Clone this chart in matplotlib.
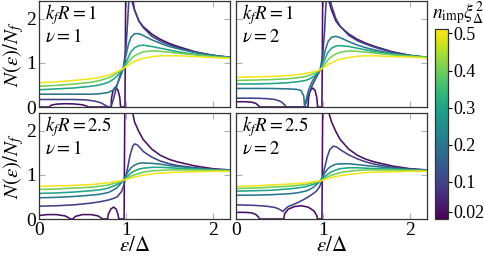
import matplotlib
matplotlib.use("Agg")
import matplotlib.pyplot as plt
import numpy as np

# impurity concentrations (colour scale)
n_imp = [0.02, 0.1, 0.2, 0.3, 0.4, 0.5]
cbar_ticks = [0.02, 0.1, 0.2, 0.3, 0.4, 0.5]
panel_titles = [(r"$k_f R = 1$", r"$\nu = 1$"), (r"$k_f R = 1$", r"$\nu = 2$"),
                (r"$k_f R = 2.5$", r"$\nu = 1$"), (r"$k_f R = 2.5$", r"$\nu = 2$")]

# common energy grid for the smooth curves
eps_grid = [0, 0.2, 0.4, 0.6, 0.7, 0.8, 0.85, 0.9, 0.95, 0.97, 1.0, 1.03, 1.06, 1.1,
            1.15, 1.2, 1.3, 1.4, 1.5, 1.6, 1.8, 2.0, 2.2]

# ---- kfR = 1, nu = 1 ----
a_x002 = [0, 0.12, 0.14, 0.2, 0.3, 0.4, 0.5, 0.55, 0.57, 0.83, 0.835, 0.85, 0.88, 0.91,
          0.93, 0.94, 0.99, 1.0, 1.02, 1.07, 1.1, 1.15, 1.2, 1.3, 1.4, 1.5, 1.6, 1.8, 2.0, 2.2]
a_y002 = [0, 0, 0.04, 0.065, 0.075, 0.07, 0.05, 0.02, 0, 0, 0.2, 0.35, 0.45, 0.38,
          0.22, 0, 0, 3.0, 3.5, 2.4, 2.2, 1.95, 1.82, 1.65, 1.53, 1.44, 1.37, 1.25, 1.17, 1.12]
a_x01 = [0, 0.2, 0.4, 0.55, 0.65, 0.72, 0.77, 0.8, 0.83, 0.86, 0.9, 0.94, 0.97, 1.0,
         1.02, 1.04, 1.07, 1.1, 1.15, 1.2, 1.3, 1.4, 1.5, 1.6, 1.8, 2.0, 2.2]
a_y01 = [0.17, 0.17, 0.17, 0.16, 0.13, 0.09, 0.03, 0.0, 0.0, 0.2, 0.5, 0.75, 0.87, 1.3,
         1.9, 2.6, 2.6, 2.2, 1.95, 1.8, 1.6, 1.49, 1.41, 1.34, 1.24, 1.17, 1.12]
a_y02 = [0.29, 0.29, 0.29, 0.29, 0.30, 0.33, 0.38, 0.50, 0.75, 0.87, 1.15, 1.42, 1.58, 1.66,
         1.66, 1.62, 1.52, 1.44, 1.37, 1.32, 1.23, 1.17, 1.13]
a_y03 = [0.39, 0.41, 0.43, 0.47, 0.50, 0.56, 0.62, 0.70, 0.82, 0.87, 0.99, 1.13, 1.25, 1.34,
         1.39, 1.40, 1.37, 1.33, 1.29, 1.25, 1.19, 1.15, 1.12]
a_y04 = [0.47, 0.49, 0.52, 0.56, 0.60, 0.66, 0.71, 0.77, 0.84, 0.87, 0.94, 1.02, 1.09, 1.16,
         1.21, 1.25, 1.27, 1.26, 1.24, 1.22, 1.18, 1.14, 1.11]
a_y05 = [0.55, 0.57, 0.60, 0.64, 0.67, 0.72, 0.76, 0.80, 0.85, 0.87, 0.91, 0.95, 0.99, 1.03,
         1.07, 1.10, 1.14, 1.16, 1.16, 1.16, 1.14, 1.12, 1.10]

# ---- kfR = 1, nu = 2 ----
b_x002 = [0, 0.1, 0.18, 0.23, 0.26, 0.27, 0.83, 0.835, 0.85, 0.88, 0.91, 0.93, 0.94, 0.99,
          1.0, 1.02, 1.07, 1.1, 1.15, 1.2, 1.3, 1.4, 1.5, 1.6, 1.8, 2.0, 2.2]
b_y002 = [0.12, 0.12, 0.11, 0.08, 0.03, 0, 0, 0.2, 0.35, 0.43, 0.38, 0.22, 0, 0,
          3.0, 3.5, 2.4, 2.2, 1.95, 1.82, 1.65, 1.53, 1.44, 1.37, 1.25, 1.17, 1.12]
b_x01 = [0, 0.2, 0.35, 0.45, 0.52, 0.56, 0.58, 0.78, 0.8, 0.84, 0.88, 0.92, 0.95, 0.97,
         1.0, 1.02, 1.04, 1.07, 1.1, 1.15, 1.2, 1.3, 1.4, 1.5, 1.6, 1.8, 2.0, 2.2]
b_y01 = [0.20, 0.20, 0.19, 0.17, 0.12, 0.05, 0, 0, 0.05, 0.3, 0.5, 0.65, 0.76, 0.84,
         1.2, 1.7, 2.5, 2.6, 2.3, 2.0, 1.83, 1.62, 1.5, 1.42, 1.35, 1.24, 1.17, 1.12]
b_x02 = [0, 0.2, 0.4, 0.6, 0.7, 0.75, 0.78, 0.79, 0.8, 0.83, 0.87, 0.9, 0.94, 0.97,
         1.0, 1.03, 1.06, 1.1, 1.15, 1.2, 1.3, 1.4, 1.5, 1.6, 1.8, 2.0, 2.2]
b_y02 = [0.42, 0.42, 0.42, 0.41, 0.40, 0.37, 0.25, 0.02, 0.1, 0.35, 0.55, 0.66, 0.77, 0.84,
         1.05, 1.3, 1.48, 1.58, 1.60, 1.57, 1.48, 1.40, 1.34, 1.29, 1.21, 1.16, 1.13]
b_y03 = [0.52, 0.52, 0.53, 0.55, 0.57, 0.60, 0.64, 0.70, 0.80, 0.84, 0.97, 1.12, 1.24, 1.33,
         1.38, 1.39, 1.37, 1.33, 1.29, 1.25, 1.20, 1.16, 1.13]
b_y04 = [0.60, 0.61, 0.62, 0.64, 0.66, 0.69, 0.72, 0.76, 0.82, 0.84, 0.91, 0.99, 1.07, 1.14,
         1.20, 1.24, 1.27, 1.26, 1.24, 1.22, 1.18, 1.15, 1.12]
b_y05 = [0.67, 0.68, 0.69, 0.71, 0.73, 0.76, 0.78, 0.80, 0.83, 0.84, 0.88, 0.92, 0.96, 1.00,
         1.05, 1.08, 1.12, 1.15, 1.16, 1.16, 1.14, 1.13, 1.11]

# ---- kfR = 2.5, nu = 1 ----
c_x002 = [0, 0.1, 0.2, 0.3, 0.34, 0.36, 0.39, 0.42, 0.5, 0.6, 0.68, 0.72, 0.73, 0.79, 0.8,
          0.83, 0.86, 0.89, 0.91, 0.92, 0.98, 0.99, 1.01, 1.08, 1.1, 1.15, 1.2, 1.3, 1.4,
          1.5, 1.6, 1.8, 2.0, 2.2]
c_y002 = [0.08, 0.10, 0.10, 0.07, 0.03, 0.0, 0.0, 0.06, 0.10, 0.10, 0.07, 0.02, 0, 0, 0.12,
          0.23, 0.27, 0.22, 0.1, 0, 0, 3.0, 3.5, 2.4, 2.2, 1.98, 1.80, 1.58, 1.44,
          1.35, 1.29, 1.2, 1.14, 1.11]
c_x01 = [0, 0.2, 0.4, 0.6, 0.7, 0.8, 0.85, 0.9, 0.95, 0.97, 0.99, 1.02, 1.05, 1.08, 1.1,
         1.13, 1.17, 1.2, 1.3, 1.4, 1.5, 1.6, 1.8, 2.0, 2.2]
c_y01 = [0.29, 0.30, 0.32, 0.36, 0.39, 0.43, 0.46, 0.50, 0.62, 0.72, 0.88, 1.15, 1.45, 1.65,
         1.70, 1.68, 1.60, 1.53, 1.40, 1.31, 1.25, 1.21, 1.16, 1.12, 1.10]
c_y02 = [0.48, 0.49, 0.51, 0.54, 0.56, 0.60, 0.65, 0.71, 0.82, 0.88, 0.98, 1.08, 1.16, 1.22,
         1.26, 1.27, 1.26, 1.24, 1.21, 1.19, 1.15, 1.12, 1.10]
c_y03 = [0.58, 0.59, 0.61, 0.64, 0.66, 0.70, 0.74, 0.78, 0.85, 0.88, 0.93, 0.99, 1.04, 1.09,
         1.13, 1.15, 1.17, 1.17, 1.16, 1.15, 1.13, 1.11, 1.10]
c_y04 = [0.67, 0.68, 0.70, 0.72, 0.74, 0.77, 0.80, 0.82, 0.86, 0.88, 0.91, 0.94, 0.97, 1.00,
         1.03, 1.06, 1.09, 1.10, 1.11, 1.11, 1.11, 1.10, 1.09]
c_y05 = [0.74, 0.75, 0.76, 0.78, 0.80, 0.82, 0.84, 0.85, 0.87, 0.88, 0.89, 0.91, 0.93, 0.95,
         0.97, 0.99, 1.02, 1.04, 1.05, 1.06, 1.07, 1.08, 1.08]

# ---- kfR = 2.5, nu = 2 ----
d_x002 = [0, 0.1, 0.18, 0.23, 0.26, 0.27, 0.55, 0.56, 0.6, 0.67, 0.75, 0.83, 0.9, 0.93, 0.94,
          0.99, 1.0, 1.02, 1.07, 1.1, 1.15, 1.2, 1.3, 1.4, 1.5, 1.6, 1.8, 2.0, 2.2]
d_y002 = [0.15, 0.15, 0.14, 0.10, 0.04, 0, 0, 0.12, 0.22, 0.28, 0.3, 0.27, 0.18, 0.08, 0,
          0, 3.0, 3.5, 2.4, 2.2, 1.98, 1.80, 1.58, 1.44, 1.35, 1.29, 1.2, 1.14, 1.11]
d_x01 = [0, 0.2, 0.35, 0.45, 0.5, 0.54, 0.57, 0.6, 0.7, 0.77, 0.85, 0.92, 0.96, 0.99, 1.02,
         1.05, 1.08, 1.12, 1.16, 1.2, 1.3, 1.4, 1.5, 1.6, 1.8, 2.0, 2.2]
d_y01 = [0.32, 0.31, 0.29, 0.26, 0.22, 0.17, 0.23, 0.28, 0.36, 0.43, 0.52, 0.62, 0.72, 0.86,
         1.15, 1.40, 1.57, 1.65, 1.63, 1.57, 1.45, 1.36, 1.29, 1.24, 1.17, 1.13, 1.11]
d_y02 = [0.54, 0.54, 0.55, 0.57, 0.59, 0.63, 0.67, 0.73, 0.82, 0.86, 0.96, 1.06, 1.14, 1.20,
         1.24, 1.25, 1.25, 1.23, 1.21, 1.19, 1.15, 1.12, 1.10]
d_y03 = [0.63, 0.64, 0.65, 0.68, 0.70, 0.73, 0.76, 0.79, 0.84, 0.86, 0.91, 0.97, 1.02, 1.07,
         1.11, 1.14, 1.16, 1.16, 1.15, 1.14, 1.13, 1.11, 1.10]
d_y04 = [0.69, 0.70, 0.72, 0.74, 0.76, 0.78, 0.80, 0.82, 0.85, 0.86, 0.89, 0.93, 0.96, 0.99,
         1.02, 1.05, 1.08, 1.10, 1.11, 1.11, 1.11, 1.10, 1.09]
d_y05 = [0.74, 0.75, 0.77, 0.79, 0.80, 0.82, 0.83, 0.85, 0.86, 0.86, 0.88, 0.90, 0.92, 0.94,
         0.96, 0.98, 1.01, 1.03, 1.05, 1.06, 1.07, 1.08, 1.08]

panels = [
    [(a_x002, a_y002), (a_x01, a_y01), (eps_grid, a_y02), (eps_grid, a_y03), (eps_grid, a_y04), (eps_grid, a_y05)],
    [(b_x002, b_y002), (b_x01, b_y01), (b_x02, b_y02), (eps_grid, b_y03), (eps_grid, b_y04), (eps_grid, b_y05)],
    [(c_x002, c_y002), (c_x01, c_y01), (eps_grid, c_y02), (eps_grid, c_y03), (eps_grid, c_y04), (eps_grid, c_y05)],
    [(d_x002, d_y002), (d_x01, d_y01), (eps_grid, d_y02), (eps_grid, d_y03), (eps_grid, d_y04), (eps_grid, d_y05)],
]

plt.rcParams["font.family"] = ["Liberation Serif", "DejaVu Serif"]
plt.rcParams["mathtext.fontset"] = "stix"

W, H = 484, 261
fig = plt.figure(figsize=(W / 100, H / 100), dpi=100)
norm = matplotlib.colors.Normalize(vmin=0.0, vmax=0.512)
cmap = plt.get_cmap("viridis")

boxes = [(39, 1), (236, 1), (39, 113), (236, 113)]
pw, ph = 191, 106
for i, (px, py) in enumerate(boxes):
    ax = fig.add_axes([px / W, 1 - (py + ph) / H, pw / W, ph / H])
    for n, (xs, ys) in zip(n_imp, panels[i]):
        ax.plot(xs, ys, color=cmap(norm(n)), lw=1.15)
    ax.set_xlim(0, 2.2)
    ax.set_ylim(0, 2.4)
    ax.set_xticks([0, 1, 2])
    ax.set_yticks([0, 1, 2])
    ax.tick_params(direction="in", length=4, width=0.8, color="#b0b0b0",
                   top=True, right=True, labelsize=14, pad=2)
    for sp in ax.spines.values():
        sp.set_color("#333333")
        sp.set_linewidth(0.9)
    if i % 2 == 1:
        ax.set_yticklabels([])
    else:
        ax.set_ylabel(r"$N(\varepsilon)/N_f$", fontsize=15, labelpad=0)
    if i < 2:
        ax.set_xticklabels([])
    else:
        ax.set_xlabel(r"$\varepsilon/\Delta$", fontsize=15, labelpad=-1)
    t1, t2 = panel_titles[i]
    ax.text(0.03, 0.985, t1, transform=ax.transAxes, fontsize=13.5, va="top")
    ax.text(0.03, 0.66, t2, transform=ax.transAxes, fontsize=13.5, va="center")

cax = fig.add_axes([435 / W, 1 - 219 / H, 13 / W, 190 / H])
sm = matplotlib.cm.ScalarMappable(norm=norm, cmap=cmap)
cb = fig.colorbar(sm, cax=cax, ticks=cbar_ticks)
cb.ax.set_yticklabels(["0.02", "0.1", "0.2", "0.3", "0.4", "0.5"])
cb.ax.tick_params(labelsize=13, length=3, width=0.8, pad=1)
cb.outline.set_edgecolor("#333333")
cb.outline.set_linewidth(0.9)
fig.text(458 / W, 1 - 13 / H, r"$n_{\rm imp}\xi_\Delta^2$", fontsize=14,
         ha="center", va="center")

fig.savefig("out.png", dpi=100)
